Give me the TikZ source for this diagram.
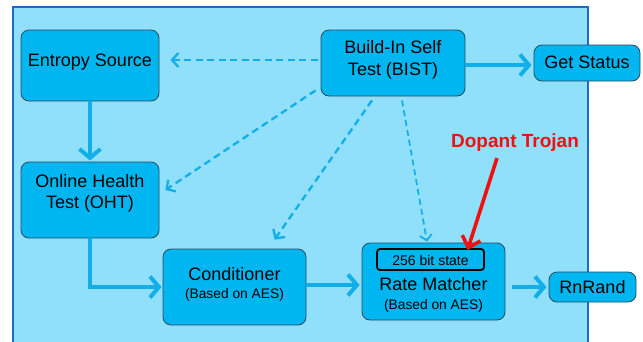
\documentclass[tikz,border=0pt]{standalone}
\usepackage{fontspec}
\setmainfont{Liberation Sans}
\usetikzlibrary{arrows.meta,calc}

\definecolor{panelfill}{HTML}{90E0FC}
\definecolor{panelline}{HTML}{1A6FC4}
\definecolor{boxfill}{HTML}{00B6F0}
\definecolor{boxline}{HTML}{2B4A5C}
\definecolor{flow}{HTML}{12AEE8}
\definecolor{trojanred}{HTML}{F01010}

\tikzset{
  block/.style={draw=boxline, line width=0.8pt, fill=boxfill, rounded corners=8pt,
    inner sep=0pt, minimum width=#1},
  % labels are placed by the middle of their capitals
  lbl/.style={inner sep=0pt, font=\fontsize{18}{21}\selectfont,
    text height=13pt, text depth=0pt},
  sublbl/.style={inner sep=0pt, font=\fontsize{13.8}{16}\selectfont,
    text height=10pt, text depth=0pt},
  mainflow/.style={draw=flow, line width=4pt,
    -{Straight Barb[length=9pt,width=21pt,line width=4pt]}},
  testflow/.style={draw=flow, line width=2.3pt, dash pattern=on 7pt off 4.5pt,
    -{Straight Barb[length=6.5pt,width=14pt,line width=2.3pt]}},
  thinflow/.style={draw=flow, line width=1.7pt, dash pattern=on 6pt off 4pt,
    -{Straight Barb[length=5.5pt,width=12pt,line width=1.7pt]}},
}

\begin{document}
\begin{tikzpicture}[x=1pt,y=-1pt]
  \useasboundingbox (0,0) rectangle (643,341);
  \clip (0,0) rectangle (643,341);

  % surrounding panel
  \fill[white] (0,0) rectangle (643,341);
  \draw[panelline, line width=2pt, fill=panelfill] (13,7) rectangle (588,360);

  % blocks
  \node[block=138pt, minimum height=71pt] (es)   at (90,65.5)   {};
  \node[block=138pt, minimum height=76pt] (oht)  at (90,200)    {};
  \node[block=144pt, minimum height=66pt] (bist) at (393,63)    {};
  \node[block=106pt, minimum height=36pt] (gs)   at (587,63)    {};
  \node[block=143pt, minimum height=76pt] (cond) at (234.5,287) {};
  \node[block=143pt, minimum height=77pt] (rm)   at (433.5,281.5) {};
  \node[block=87pt,  minimum height=30pt] (rn)   at (592.5,287) {};
  \node[draw=black, line width=1.8pt, fill=boxfill, rounded corners=3pt,
        minimum width=107pt, minimum height=21pt, inner sep=0pt] (state) at (430.5,259.5) {};

  % block texts
  \node[lbl] (estxt)    at (90,60)     {Entropy Source};
  \node[lbl] (ohttxta)  at (90,181)    {Online Health};
  \node[lbl] (ohttxtb)  at (90,202)    {Test (OHT)};
  \node[lbl] (bisttxta) at (393,47)    {Build-In Self};
  \node[lbl] (bisttxtb) at (393,69)    {Test (BIST)};
  \node[lbl] (gstxt)    at (587,62)    {Get Status};
  \node[lbl] (condtxt)  at (234.5,273.5) {Conditioner};
  \node[sublbl] (condsub) at (234.5,293) {(Based on AES)};
  \node[lbl] (rmtxt)    at (433.5,284) {Rate Matcher};
  \node[sublbl] (rmsub) at (433.5,304) {(Based on AES)};
  \node[lbl] (rntxt)    at (592.5,287) {RnRand};
  \node[inner sep=0pt, font=\fontsize{14}{16}\selectfont, text height=10pt, text depth=0pt]
        (statetxt) at (430.5,260.5) {256 bit state};

  % data path
  \draw[mainflow, shorten >=1pt] (es.south) -- (oht.north);
  \draw[mainflow, shorten >=1pt] (oht.south) |- (cond.west);
  \draw[mainflow, shorten >=2pt] ([yshift=2pt]cond.east) -- ([yshift=2pt]cond.east -| rm.west);
  \draw[mainflow, shorten <=7pt, shorten >=2pt] (rm.east |- rn.west) -- (rn.west);
  \draw[mainflow, shorten >=2pt] ([yshift=-2pt]bist.east) -- ([yshift=-2pt]bist.east -| gs.west);

  % self-test links
  \draw[testflow, shorten <=3pt, shorten >=11pt] ([yshift=3pt]bist.west) -- ([yshift=5.5pt]es.east);
  \draw[testflow] ($(bist.south west)+(-5,-6)$) -- ($(oht.east)+(6,-10)$);
  \draw[testflow] ($(bist.south)+(-21,4)$) -- ($(cond.north)+(40,-9)$);
  \draw[thinflow] ($(bist.south)+(9,4)$) -- ($(rm.north)+(-6.5,-1)$);

  % trojan annotation
  \node[inner sep=0pt, text=trojanred, font=\fontsize{19}{22}\selectfont\bfseries]
        (trojan) at (515,143) {Dopant Trojan};
  \draw[draw=trojanred, line width=3.6pt,
        -{Straight Barb[length=10pt,width=19pt,line width=3.6pt]}]
        ($(trojan.south)+(-18,6)$) -- ($(state.north)+(37,2)$);
\end{tikzpicture}
\end{document}
